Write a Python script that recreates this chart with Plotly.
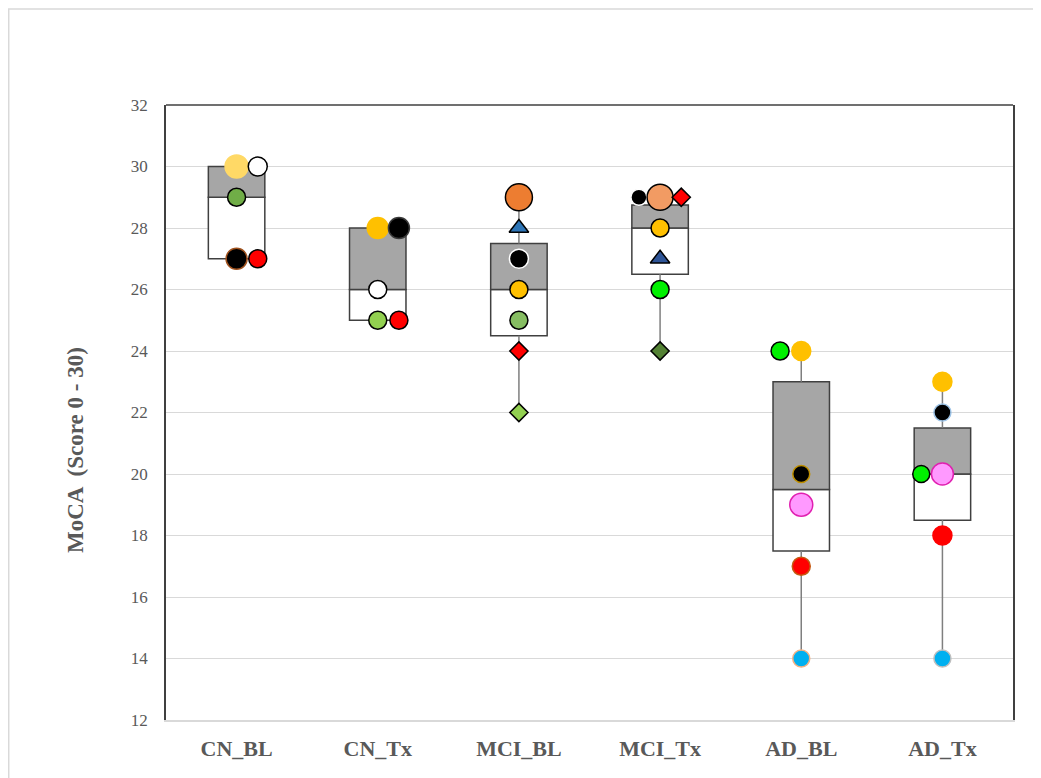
import plotly.graph_objects as go

# ---------------- data ----------------
categories = ["CN_BL", "CN_Tx", "MCI_BL", "MCI_Tx", "AD_BL", "AD_Tx"]
q1 = [27, 25, 24.5, 26.5, 17.5, 18.5]
median = [29, 26, 26, 28, 19.5, 20]
q3 = [30, 28, 27.5, 28.75, 23, 21.5]
whisker_min = [27, 25, 22, 24, 14, 14]
whisker_max = [30, 28, 29, 29, 24, 23]

cn_bl_scores = [30, 30, 29, 27, 27]
cn_tx_scores = [28, 28, 26, 25, 25]
mci_bl_scores = [29, 28, 27, 26, 25, 24, 22]
mci_tx_scores = [29, 29, 29, 28, 27, 26, 24]
ad_bl_scores = [24, 24, 20, 19, 17, 14]
ad_tx_scores = [23, 22, 20, 20, 18, 14]
group_scores = [cn_bl_scores, cn_tx_scores, mci_bl_scores,
                mci_tx_scores, ad_bl_scores, ad_tx_scores]

y_ticks = [12, 14, 16, 18, 20, 22, 24, 26, 28, 30, 32]
y_title = "MoCA  (Score 0 - 30)"

# ---------------- styles (offset, symbol, fill, outline, size) ----------------
O = 0.15
styles = [
    [(0, "circle", "#FFD966", "#FFD966", 23), (O, "circle", "#FFFFFF", "#000000", 19),
     (0, "circle", "#70AD47", "#000000", 18), (0, "circle", "#000000", "#A0521E", 21),
     (O, "circle", "#FF0000", "#000000", 18)],
    [(0, "circle", "#FFC000", "#FFC000", 21), (O, "circle", "#000000", "#3A3A3A", 21),
     (0, "circle", "#FFFFFF", "#000000", 18), (0, "circle", "#92D050", "#000000", 18),
     (O, "circle", "#FF0000", "#000000", 18)],
    [(0, "circle", "#ED7D31", "#000000", 27), (0, "triangle-up", "#2E75B6", "#000000", 17),
     (0, "circle", "#000000", "#FFFFFF", 19), (0, "circle", "#FFC000", "#000000", 18),
     (0, "circle", "#86BD62", "#000000", 18), (0, "diamond", "#FF0000", "#000000", 14),
     (0, "diamond", "#92D050", "#000000", 14)],
    [(-O, "circle", "#000000", "#FFFFFF", 16), (0, "circle", "#F29B63", "#000000", 26),
     (O, "diamond", "#FF0000", "#000000", 14), (0, "circle", "#FFC000", "#000000", 18),
     (0, "triangle-up", "#2F5597", "#000000", 17), (0, "circle", "#00F000", "#000000", 18),
     (0, "diamond", "#548235", "#000000", 14)],
    [(-O, "circle", "#00F000", "#000000", 18), (0, "circle", "#FFC000", "#FFC000", 19),
     (0, "circle", "#000000", "#BF9000", 17), (0, "circle", "#FF99FF", "#E020B0", 23),
     (0, "circle", "#FF0000", "#C55A11", 18), (0, "circle", "#00B0F0", "#F4B183", 17)],
    [(0, "circle", "#FFC000", "#FFC000", 19), (0, "circle", "#000000", "#9DC3E6", 17),
     (-O, "circle", "#00F000", "#000000", 17), (0, "circle", "#FF99FF", "#E020B0", 22),
     (0, "circle", "#FF0000", "#FF0000", 19), (0, "circle", "#00B0F0", "#BFBFBF", 17)],
]

xs = list(range(len(categories)))
fig = go.Figure()

# whiskers (two segments per group so they do not cross the boxes)
wx, wy = [], []
for i in xs:
    wx += [i, i, None, i, i, None]
    wy += [whisker_min[i], q1[i], None, q3[i], whisker_max[i], None]
fig.add_trace(go.Scatter(x=wx, y=wy, mode="lines",
                         line=dict(color="#7F7F7F", width=1.5),
                         hoverinfo="skip", showlegend=False))

# lower box (Q1 -> median) and upper box (median -> Q3)
fig.add_trace(go.Bar(x=xs, y=[median[i] - q1[i] for i in xs], base=q1, width=0.4,
                     marker=dict(color="#FFFFFF", line=dict(color="#404040", width=1.5)),
                     opacity=1, showlegend=False))
fig.add_trace(go.Bar(x=xs, y=[q3[i] - median[i] for i in xs], base=median, width=0.4,
                     marker=dict(color="#A6A6A6", line=dict(color="#404040", width=1.5)),
                     opacity=1, showlegend=False))

for i, scores in enumerate(group_scores):
    st = styles[i]
    fig.add_trace(go.Scatter(
        x=[i + s[0] for s in st], y=scores, mode="markers",
        marker=dict(symbol=[s[1] for s in st], color=[s[2] for s in st],
                    size=[s[4] for s in st], opacity=1,
                    line=dict(color=[s[3] for s in st], width=1.5)),
        opacity=1, showlegend=False))

serif = "Liberation Serif"
fig.update_layout(
    width=1033, height=770,
    margin=dict(l=158, r=28, t=97, b=58, autoexpand=False),
    paper_bgcolor="white", plot_bgcolor="white",
    barmode="overlay", showlegend=False,
    xaxis=dict(range=[-0.5, 5.5], tickvals=xs, ticktext=categories,
               showgrid=False, zeroline=False, showline=True, automargin=False,
               linecolor="#D9D9D9", linewidth=1.5, ticks="",
               ticklabelstandoff=8,
               tickfont=dict(family=serif, size=22, color="#595959", weight="bold")),
    yaxis=dict(range=[12, 32], tickvals=y_ticks, showgrid=True, automargin=False,
               gridcolor="#D9D9D9", gridwidth=1, zeroline=False,
               showline=True, mirror=True, linecolor="#404040", linewidth=1.5,
               ticks="", ticklabelstandoff=13,
               tickfont=dict(family=serif, size=17, color="#595959")),
    annotations=[
        dict(text=y_title, xref="paper", yref="paper", x=-0.1074, y=0.439,
             xanchor="center", yanchor="middle", textangle=-90, showarrow=False,
             font=dict(family=serif, size=23, color="#595959", weight="bold")),
    ],
    shapes=[
        dict(type="line", xref="paper", yref="paper", x0=0, x1=1, y0=1, y1=1,
             line=dict(color="#404040", width=1.5)),
        dict(type="rect", xref="paper", yref="paper",
             x0=-0.1857, x1=1.0248, y0=-0.11, y1=1.1561,
             line=dict(color="#D9D9D9", width=1.5), layer="below"),
    ],
)

fig.write_html("out.html")
